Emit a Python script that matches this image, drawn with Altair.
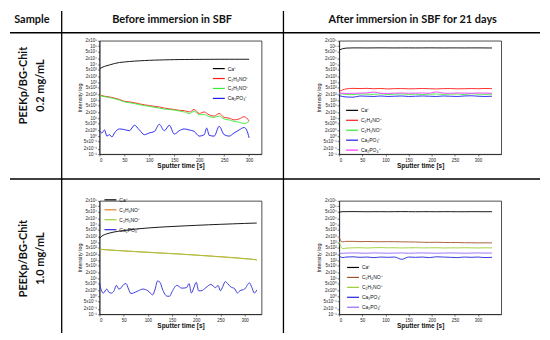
import altair as alt
import pandas as pd

SP4 = ["Ca⁺", "C₂H₄NO⁺", "C₂H₅NO⁺", "Ca₂PO₃⁺"]
SP5 = ["Ca⁺", "C₂H₄NO⁺", "C₂H₅NO⁺", "Ca₂PO₃⁺", "Ca₂PO₄⁺"]

# ---- Panel A: 0.2 mg/mL, before immersion ----
A_T = list(range(0, 301, 10))
A_CA = [5600, 7500, 9000, 10800, 12300, 13200, 14000, 14700, 15300, 15800, 16300,
        16700, 17000, 17300, 17600, 17800, 18000, 18100, 18200, 18300, 18400,
        18500, 18500, 18600, 18600, 18700, 18700, 18700, 18700, 18700, 18700]
A_C2H4 = [190, 165, 150, 130, 110, 85, 80, 72, 62, 55, 50, 45, 42, 36, 33, 30,
          27, 26, 22, 30, 18, 22, 15, 13, 18, 11, 10, 8, 9, 12, 7]
A_C2H5 = [180, 155, 140, 120, 100, 80, 72, 65, 56, 50, 45, 40, 36, 32, 30, 28,
          25, 22, 18, 24, 15, 16, 12, 11, 13, 9, 8, 6.5, 6, 5, 6.5]
A_PO3_T = [0, 5, 10, 15, 20, 25, 30, 40, 50, 60, 70, 80, 90, 100, 110, 120, 130, 140,
           150, 160, 170, 180, 190, 200, 210, 215, 220, 230, 240, 250, 260, 270, 280,
           290, 295, 300]
A_PO3 = [2.0, 1.5, 2.2, 1.0, 1.2, 0.9, 1.5, 2.5, 2.3, 2.0, 4.0, 2.2, 1.2, 1.5, 1.8,
         4.5, 2.0, 4.0, 1.3, 2.0, 2.5, 2.2, 1.8, 1.0, 1.2, 2.8, 1.1, 1.0, 3.5, 1.2,
         1.0, 1.5, 2.2, 3.0, 2.2, 0.8]

# ---- Panel B: 0.2 mg/mL, after 21 days in SBF ----
B_T = list(range(0, 331, 15))
B_CA = [62000, 78000, 80000, 80000, 79500, 80000, 80500, 80000, 79500, 80000, 80000,
        79500, 80000, 80500, 80000, 79500, 80000, 80000, 79500, 80000, 80000, 79500, 79000]
B_C2H4 = [300, 420, 450, 440, 450, 430, 445, 420, 435, 440, 425, 430, 445, 430, 420,
          435, 440, 425, 430, 440, 430, 445, 435]
B_C2H5 = [230, 210, 200, 220, 215, 210, 225, 205, 215, 220, 210, 215, 205, 215, 220,
          210, 215, 220, 205, 230, 215, 210, 215]
B_PO3 = [175, 150, 145, 170, 165, 160, 170, 160, 165, 170, 160, 165, 170, 165, 160,
         170, 165, 160, 170, 175, 165, 160, 165]
B_PO4 = [250, 235, 240, 245, 250, 280, 240, 235, 245, 250, 240, 245, 250, 240, 290,
         245, 240, 250, 245, 240, 250, 245, 240]

# ---- Panel C: 1.0 mg/mL, before immersion ----
C_CA_T = [0, 5, 10, 20, 30, 40, 50, 75, 100, 125, 150, 175, 200, 225, 250, 275, 300, 325]
C_CA = [1600, 2200, 2600, 3200, 3700, 4100, 4500, 5400, 6200, 6900, 7500, 8100, 8700,
        9300, 9900, 10500, 11100, 11700]
C_T = list(range(0, 321, 10)) + [325]
C_C2H4 = [410, 395, 370, 360, 340, 335, 320, 305, 298, 285, 275, 270, 258, 250, 242,
          235, 225, 220, 208, 204, 193, 186, 178, 172, 163, 158, 150, 144, 138, 130,
          124, 118, 110, 106]
C_C2H5 = [400, 380, 375, 350, 345, 325, 318, 310, 290, 283, 278, 262, 255, 245, 238,
          230, 228, 212, 206, 198, 190, 182, 176, 168, 160, 152, 148, 140, 134, 128,
          120, 116, 108, 102]
C_PO3_T = [0, 3, 8, 15, 20, 25, 30, 35, 40, 45, 50, 55, 60, 65, 70, 80, 90, 100, 110,
           115, 120, 125, 130, 140, 145, 150, 160, 170, 180, 185, 190, 195, 200, 205,
           210, 220, 230, 240, 245, 250, 255, 260, 265, 270, 280, 285, 290, 300, 310,
           315, 320, 325]
C_PO3 = [6, 2.5, 1.5, 2.5, 1.6, 1.5, 2.0, 4.0, 2.5, 3.0, 4.5, 5.0, 2.5, 1.4, 1.5, 2.0,
         2.5, 2.0, 1.2, 2.5, 7.0, 6.0, 2.5, 1.0, 1.0, 1.8, 4.0, 2.8, 3.0, 5.0, 1.5,
         3.0, 6.0, 2.0, 2.0, 3.0, 4.5, 3.0, 4.0, 2.0, 3.5, 6.5, 5.0, 3.5, 2.5, 1.5,
         2.0, 2.5, 5.5, 3.0, 1.5, 2.2]

# ---- Panel D: 1.0 mg/mL, after 21 days in SBF ----
D_T = [0, 4, 8] + list(range(15, 331, 15))
D_CA = [46000, 49000, 50000, 50000, 50500, 50000, 49500, 50000, 50000, 49500, 50000,
        50500, 50000, 49500, 50000, 50000, 49500, 50000, 50000, 49500, 49500, 50000,
        50000, 49500, 50000]
D_C2H4 = [2200, 1150, 1050, 1120, 1120, 1080, 1100, 1080, 1060, 1080, 1070, 1050,
          1040, 1030, 1000, 980, 1000, 975, 960, 965, 940, 935, 920, 925, 920]
D_C2H5 = [1100, 560, 440, 470, 490, 495, 480, 495, 505, 490, 495, 480, 490, 495, 485,
          488, 495, 480, 488, 485, 495, 488, 480, 490, 485]
D_PO3 = [160, 150, 140, 150, 155, 145, 150, 140, 150, 145, 150, 112, 150, 145, 150,
         140, 155, 150, 145, 140, 150, 145, 150, 140, 145]
D_PO4 = [260, 240, 245, 250, 255, 250, 245, 255, 250, 245, 250, 255, 245, 250, 255,
         250, 245, 250, 255, 250, 245, 250, 255, 250, 250]

X_TICKS = [0, 50, 100, 150, 200, 250, 300]
Y_TICKS = [0.1, 0.2, 0.5, 1, 2, 5, 10, 20, 50, 100, 200, 500, 1e3, 2e3, 5e3,
           1e4, 2e4, 5e4, 1e5, 2e5]

COL_TOP = ["#000000", "#ff1a1a", "#33ee33", "#1a1aee", "#ff33ff"]
COL_C = ["#000000", "#e0842a", "#9acd32", "#2a2ad8"]
COL_D = ["#000000", "#a0522d", "#9acd32", "#2222dd", "#9966ff"]


def frame(series):
    rows = []
    for name, ts, vs in series:
        for t, v in zip(ts, vs):
            rows.append({"t": t, "v": v, "s": name})
    return pd.DataFrame(rows)


EXP = "floor(log(datum.value)/LN10+0.001)"
LBL = ("(round(datum.value/pow(10," + EXP + "))==1 ? '' : round(datum.value/pow(10," + EXP
       + "))+'x') + '10' + ['⁻¹','⁰','¹','²','³','⁴','⁵'][" + EXP + "+1]")

W, H = 163, 114


def panel(df, xmax, species, colors, lx, ly):
    return alt.Chart(df).mark_line(strokeWidth=0.9, interpolate="monotone", clip=True).encode(
        x=alt.X("t:Q", scale=alt.Scale(domain=[0, xmax], nice=False),
                axis=alt.Axis(values=X_TICKS, title="Sputter time [s]")),
        y=alt.Y("v:Q", scale=alt.Scale(type="log", domain=[0.1, 2e5], nice=False),
                axis=alt.Axis(values=Y_TICKS, labelExpr=LBL, title="Intensity log",
                              labelOverlap=False)),
        color=alt.Color("s:N", sort=species,
                        scale=alt.Scale(domain=species, range=colors),
                        legend=alt.Legend(orient="none", legendX=lx, legendY=ly, title=None)),
    )


dfA = frame([(SP4[0], A_T, A_CA), (SP4[1], A_T, A_C2H4), (SP4[2], A_T, A_C2H5),
             (SP4[3], A_PO3_T, A_PO3)])
dfB = frame([(SP5[0], B_T, B_CA), (SP5[1], B_T, B_C2H4), (SP5[2], B_T, B_C2H5),
             (SP5[3], B_T, B_PO3), (SP5[4], B_T, B_PO4)])
dfC = frame([(SP4[0], C_CA_T, C_CA), (SP4[1], C_T, C_C2H4), (SP4[2], C_T, C_C2H5),
             (SP4[3], C_PO3_T, C_PO3)])
dfD = frame([(SP5[0], D_T, D_CA), (SP5[1], D_T, D_C2H4), (SP5[2], D_T, D_C2H5),
             (SP5[3], D_T, D_PO3), (SP5[4], D_T, D_PO4)])

one = pd.DataFrame({"k": [0]})


def hline(y, x1, x2, w=1.3):
    return alt.Chart(one).mark_rule(color="black", strokeWidth=w).encode(
        x=alt.value(x1), x2=alt.value(x2), y=alt.value(y))


def vline(x, y1, y2, w=1.3):
    return alt.Chart(one).mark_rule(color="black", strokeWidth=w).encode(
        x=alt.value(x), y=alt.value(y1), y2=alt.value(y2))


def label(txt, x, y, angle=0):
    return alt.Chart(one).mark_text(text=txt, font="Lato", fontWeight="bold", fontSize=11,
                                    angle=angle, align="center", baseline="middle",
                                    color="#111").encode(x=alt.value(x), y=alt.value(y))


decor = [
    hline(-8, -90, 443, 1.6), hline(139, -90, 443, 1.4),
    vline(-38, -30, 294), vline(185, -30, 294),
    label("Sample", -68, -21), label("Before immersion in SBF", 73, -21),
    label("After immersion in SBF for 21 days", 315, -21),
    label("PEEKp/BG-Chit", -76, 45, 270), label("0.2 mg/mL", -59, 45, 270),
    label("PEEKp/BG-Chit", -76, 219, 270), label("1.0 mg/mL", -59, 219, 270),
]

A = alt.layer(panel(dfA, 325, SP4, COL_TOP[:4], 113, 21), *decor).properties(width=W, height=H)
B = panel(dfB, 350, SP5, COL_TOP, 6, 63).properties(width=W, height=H)
C = panel(dfC, 335, SP4, COL_C, 4, -8).properties(width=W, height=H)
D = panel(dfD, 350, SP5, COL_D, 7, 60).properties(width=W, height=H)

chart = alt.concat(
    A, B, C, D, columns=2, spacing={"row": 47, "column": 78}, bounds="flush"
).resolve_scale(
    color="independent"
).properties(padding=0).configure_view(
    stroke="#222", strokeWidth=0.8
).configure_axis(
    labelFont="Liberation Sans", titleFont="Liberation Sans", labelFontSize=4.5,
    tickSize=2, tickWidth=0.6, tickColor="#222", domainColor="#222", domainWidth=0.8,
    labelColor="#222", titleColor="#111", grid=False, labelPadding=1
).configure_axisX(
    titleFontSize=6.5, titleFontWeight="bold", titlePadding=1
).configure_axisY(
    titleFontSize=5.5, titleFontWeight="normal", titlePadding=1
).configure_legend(
    labelFontSize=5, labelFont="Liberation Sans", symbolType="stroke", symbolSize=144,
    symbolStrokeWidth=1.2, rowPadding=-5.5, padding=0, labelOffset=2, labelColor="#111"
)

chart.save("out.html", embed_options={"renderer": "svg", "actions": False})
